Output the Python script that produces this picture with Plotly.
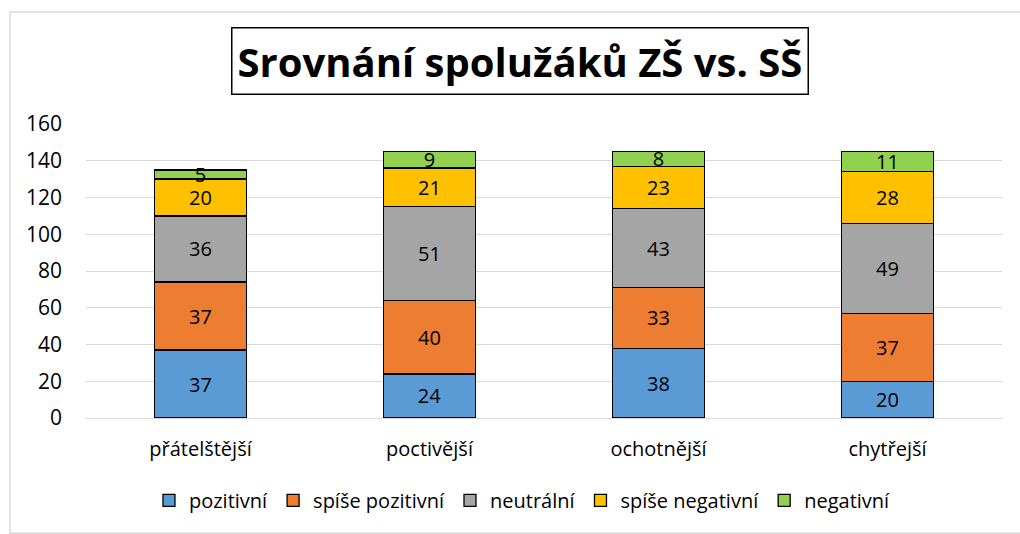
import plotly.graph_objects as go

categories = ["přátelštější", "poctivější", "ochotnější", "chytřejší"]
series_names = ["pozitivní", "spíše pozitivní", "neutrální", "spíše negativní", "negativní"]
pozitivni = [37, 24, 38, 20]
spise_pozitivni = [37, 40, 33, 37]
neutralni = [36, 51, 43, 49]
spise_negativni = [20, 21, 23, 28]
negativni = [5, 9, 8, 11]
colors = ["#5B9BD5", "#ED7D31", "#A5A5A5", "#FFC000", "#92D050"]

FONT = "Open Sans"
values = [pozitivni, spise_pozitivni, neutralni, spise_negativni, negativni]

fig = go.Figure()
for name, vals, col in zip(series_names, values, colors):
    fig.add_trace(go.Bar(
        x=categories, y=vals, name=name,
        marker=dict(color=col, line=dict(color="black", width=1.3)),
        text=[str(v) for v in vals], textposition="inside", textangle=0,
        insidetextanchor="middle", constraintext="none",
        textfont=dict(family=FONT, size=20, color="black"),
        width=0.4,
    ))

fig.update_layout(
    barmode="stack",
    width=1020, height=534,
    paper_bgcolor="white", plot_bgcolor="white",
    margin=dict(l=86, r=18, t=124, b=116, autoexpand=False),
    font=dict(family=FONT, size=20, color="black"),
    showlegend=True,
    legend=dict(orientation="h", x=0.4765, xanchor="center", y=-0.28, yanchor="middle",
                font=dict(family=FONT, size=20), traceorder="normal",
                itemwidth=30),
    yaxis=dict(range=[0, 160], dtick=20, showgrid=True, gridcolor="#D9D9D9",
               gridwidth=1.3, zeroline=False, showline=False,
               tickfont=dict(family=FONT, size=21), ticks="", ticklabelstandoff=23),
    xaxis=dict(showline=True, linecolor="#D9D9D9", linewidth=1.3,
               tickfont=dict(family=FONT, size=20), ticks="", ticklabelstandoff=13),
    annotations=[dict(
        text="<b>Srovnání spolužáků ZŠ vs. SŠ</b>",
        xref="paper", yref="paper", x=0.4743, y=1.2126, xanchor="center", yanchor="middle",
        showarrow=False, font=dict(family=FONT, size=40, color="black"),
        bordercolor="black", borderwidth=1.5, borderpad=5, bgcolor="white",
    )],
    shapes=[dict(type="rect", xref="paper", yref="paper",
                 x0=-76/916, x1=1.03, y0=-0.392, y1=1.381,
                 line=dict(color="#D9D9D9", width=1.3), layer="below")],
)

fig.write_html("out.html", post_script="document.body.style.margin='0px';",
               config={"displayModeBar": False})
